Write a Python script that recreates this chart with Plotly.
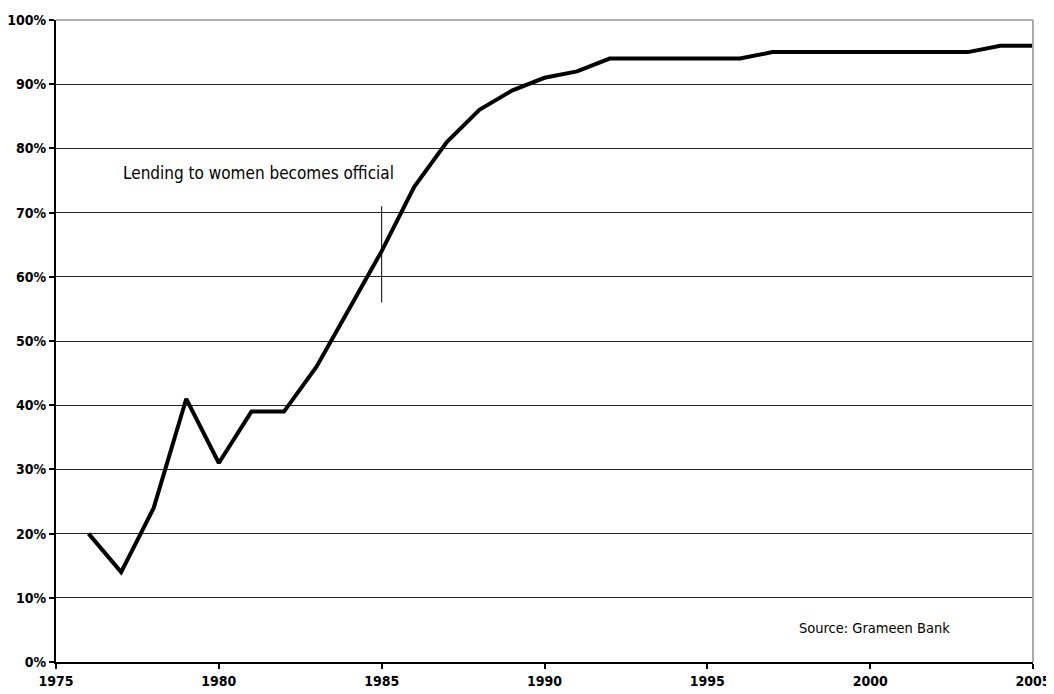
import plotly.graph_objects as go

years = list(range(1976, 2006))
share_women = [20, 14, 24, 41, 31, 39, 39, 46, 55, 64, 74, 81, 86, 89, 91, 92,
               94, 94, 94, 94, 94, 95, 95, 95, 95, 95, 95, 95, 96, 96]
y_ticks = [0, 10, 20, 30, 40, 50, 60, 70, 80, 90, 100]
y_tick_labels = [f"{v}%" for v in y_ticks]
x_ticks = [1975, 1980, 1985, 1990, 1995, 2000, 2005]

marker_year = 1985
marker_range = [56, 71]
note_text = "Lending to women becomes official"
source_text = "Source: Grameen Bank"

FONT = "Liberation Sans Narrow, DejaVu Sans Condensed, Arial Narrow, sans-serif"

fig = go.Figure()
fig.add_trace(go.Scatter(x=years, y=share_women, mode="lines",
                         line=dict(color="black", width=4), showlegend=False,
                         hoverinfo="skip"))
fig.add_trace(go.Scatter(x=[marker_year, marker_year], y=marker_range, mode="lines",
                         line=dict(color="black", width=1), showlegend=False,
                         hoverinfo="skip"))

fig.add_annotation(x=1977.0, y=76.2, xref="x", yref="y", text=note_text,
                   showarrow=False, xanchor="left", yanchor="middle",
                   font=dict(family=FONT, size=17, color="black"))
fig.add_annotation(x=2002.5, y=5.3, xref="x", yref="y", text=source_text,
                   showarrow=False, xanchor="right", yanchor="middle",
                   font=dict(family=FONT, size=14.5, color="black"))

# top gridline and right border in gray
fig.add_shape(type="line", xref="paper", yref="paper", x0=1, x1=1, y0=0, y1=1,
              line=dict(color="#aaaaaa", width=2))
fig.add_shape(type="line", xref="paper", yref="paper", x0=0, x1=1, y0=1, y1=1,
              line=dict(color="#999999", width=1.5))

fig.update_layout(
    width=1046, height=686,
    margin=dict(l=48, r=21, t=12, b=32),
    paper_bgcolor="white", plot_bgcolor="white",
    font=dict(family=FONT, color="black"),
)
fig.update_xaxes(range=[1975, 2005], tickvals=x_ticks,
                 ticktext=[f"<b>{v}</b>" for v in x_ticks],
                 showgrid=False, zeroline=False, automargin=False,
                 showline=True, linecolor="black", linewidth=2,
                 ticks="outside", ticklen=5, tickwidth=2, tickcolor="black",
                 tickfont=dict(family=FONT, size=14, color="black"))
fig.update_yaxes(range=[0, 100], tickvals=y_ticks,
                 ticktext=[f"<b>{t}</b>" for t in y_tick_labels],
                 showgrid=True, gridcolor="#222222", gridwidth=1.2,
                 zeroline=False, automargin=False,
                 showline=True, linecolor="black", linewidth=2,
                 ticks="outside", ticklen=5, tickwidth=2, tickcolor="black",
                 tickfont=dict(family=FONT, size=14, color="black"))

fig.write_html("out.html")
